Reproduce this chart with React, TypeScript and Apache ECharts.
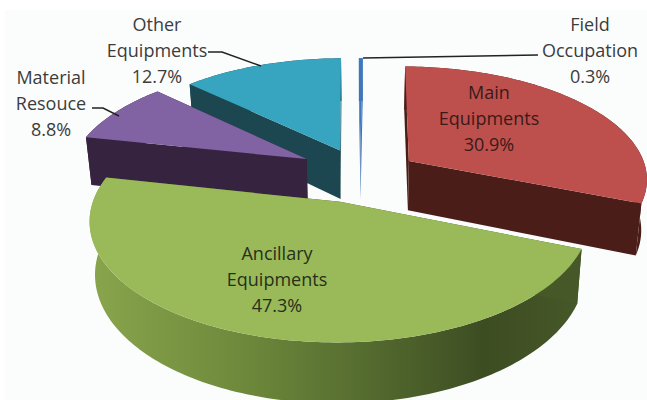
import React, { useEffect, useRef } from "react";
import * as echarts from "echarts";

// clockwise from 12 o'clock
const categories = ["Main\nEquipments", "Ancillary\nEquipments", "Material\nResouce", "Other\nEquipments", "Field\nOccupation"];
const shares = [30.9, 47.3, 8.8, 12.7, 0.3];
const explodeU = [0.204, -0.085, -0.232, -0.09, -0.002];
const explodeV = [0.1, -0.259, 0.118, 0.2, 0.2];
const topColors = ["#bd504d", "#9aba59", "#8162a3", "#37a4c0", "#3f78bd"];
const wallColors = ["#4b1d19", "#465728", "#35233f", "#1c4650", "#3b72b0"];
const depthRank = [3, 4, 2, 1, 0];
const labelAnchors = [[489, 118], [277, 279], [51, 103], [157, 50], [590, 50]];
const leaders: number[][][] = [[], [], [[92, 108], [103, 108], [119, 116]], [[208, 52], [222, 52], [261, 66]], [[538, 55], [363, 58]]];
const labelColors = ["#3a1a18", "#26301a", "#3c3c3c", "#3c3c3c", "#3c3c3c"];

const CX = 361, CY = 172, RX = 238, RY = 111, K = 0.143, H = 50, SHRINK = 0.98, START = 0.6;

function project(u: number, v: number) {
  const s = 1 / (1 + K * v);
  return [CX + RX * u * s, CY - RY * v * s, s];
}
function bottomOf(p: number[]) {
  return [CX + (p[0] - CX) * SHRINK, p[1] + H * p[2]];
}

function renderItem(params: any, api: any) {
  const i = params.dataIndex;
  const total = shares.reduce((a, b) => a + b, 0);
  const before = shares.slice(0, i).reduce((a, b) => a + b, 0);
  const startRad = (START * Math.PI) / 180;
  const a0 = startRad + (before / total) * Math.PI * 2;
  const a1 = startRad + ((before + api.value(0)) / total) * Math.PI * 2;
  const ou = explodeU[i], ov = explodeV[i];
  const apex = project(ou, ov);
  const rim: number[][] = [];
  const steps = Math.max(2, Math.ceil((a1 - a0) / 0.02));
  for (let k = 0; k <= steps; k++) {
    const t = a0 + ((a1 - a0) * k) / steps;
    rim.push(project(ou + Math.sin(t), ov + Math.cos(t)));
  }
  const rimBottom = rim.map(bottomOf);
  const apexB = bottomOf(apex);
  const first = rim[0], last = rim[rim.length - 1];
  const base = depthRank[i] * 10;
  const xy = (p: number[]) => [p[0], p[1]];
  const rimFill: any =
    i === 1
      ? new echarts.graphic.LinearGradient(0, 0, 1, 0, [
          { offset: 0, color: "#89a54c" },
          { offset: 0.3, color: "#6f8a3c" },
          { offset: 0.55, color: "#566d30" },
          { offset: 0.8, color: "#3d4d22" },
          { offset: 1, color: "#465728" },
        ])
      : wallColors[i];
  const children: any[] = [
    { type: "polygon", z2: base, shape: { points: [...rim.map(xy), ...rimBottom.slice().reverse().map(xy)] }, style: { fill: rimFill } },
    { type: "polygon", z2: base + 1, shape: { points: [xy(apex), xy(first), xy(rimBottom[0]), xy(apexB)] }, style: { fill: wallColors[i] } },
    { type: "polygon", z2: base + 1, shape: { points: [xy(apex), xy(last), xy(rimBottom[rimBottom.length - 1]), xy(apexB)] }, style: { fill: wallColors[i] } },
    { type: "polygon", z2: base + 2, shape: { points: [xy(apex), ...rim.map(xy)] }, style: { fill: topColors[i] } },
  ];
  if (leaders[i].length) {
    children.push({ type: "polyline", z2: 100, shape: { points: leaders[i] }, style: { stroke: "#222222", lineWidth: 1.5, fill: "none" } });
  }
  children.push({
    type: "text",
    z2: 101,
    x: labelAnchors[i][0],
    y: labelAnchors[i][1],
    style: {
      text: `${categories[i]}\n${api.value(0).toFixed(1)}%`,
      align: "center",
      verticalAlign: "middle",
      font: '18px "Open Sans"',
      lineHeight: 26,
      fill: labelColors[i],
    },
  });
  return { type: "group", children };
}

export default function App() {
  const ref = useRef<HTMLDivElement>(null);
  useEffect(() => {
    const chart = echarts.init(ref.current!, undefined, { renderer: "svg" });
    chart.setOption({
      animation: false,
      backgroundColor: "#ffffff",
      graphic: [{ type: "rect", z: -1, shape: { x: 5, y: 10, width: 642, height: 390 }, style: { fill: "#fbfcfc" } }],
      series: [{ type: "custom", coordinateSystem: "none", renderItem, data: shares.map((v) => [v]), silent: true, clip: false }],
    });
    return () => chart.dispose();
  }, []);
  return <div ref={ref} style={{ position: "fixed", left: 0, top: 0, width: 647, height: 400 }} />;
}
